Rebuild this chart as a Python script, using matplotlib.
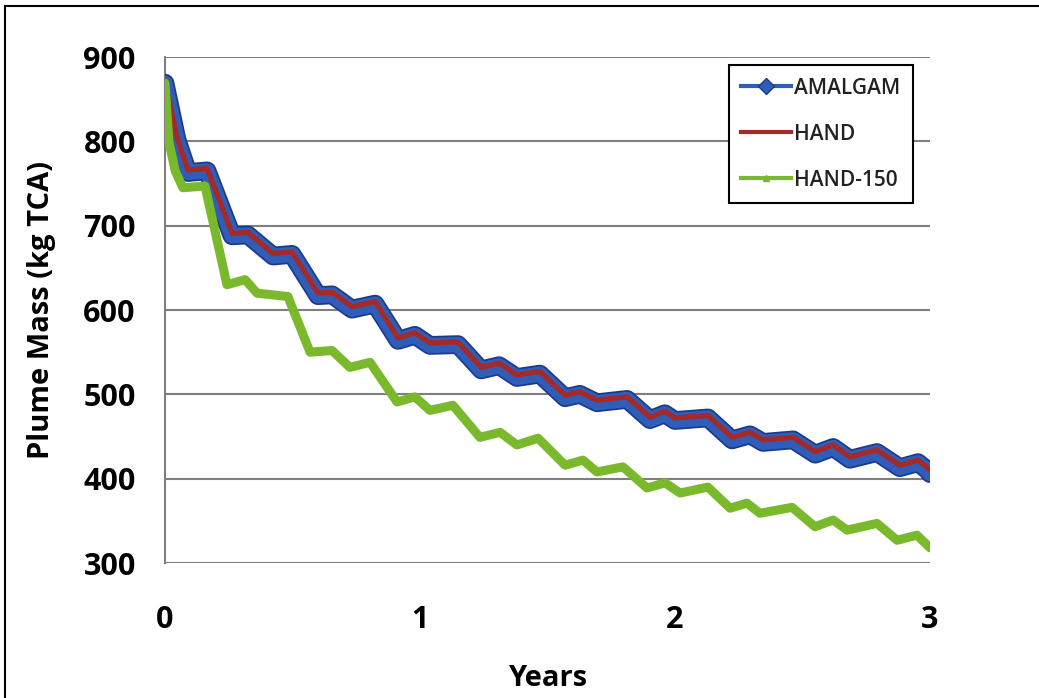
import matplotlib
matplotlib.use("Agg")
import matplotlib.pyplot as plt
import matplotlib.patheffects as pe
from matplotlib.lines import Line2D

plt.rcParams["font.family"] = ["Open Sans", "DejaVu Sans"]

# HAND run (red)
hand_years = [0.0, 0.047, 0.09, 0.165, 0.263, 0.325, 0.424, 0.498, 0.60, 0.655,
              0.733, 0.824, 0.914, 0.98, 1.039, 1.149, 1.24, 1.31, 1.38, 1.47,
              1.569, 1.627, 1.694, 1.812, 1.902, 1.96, 2.0, 2.129, 2.224, 2.294,
              2.345, 2.463, 2.55, 2.62, 2.686, 2.792, 2.882, 2.953, 2.99, 3.0]
hand_mass = [870, 805, 766, 768, 691, 692, 667, 669, 620, 621,
             604, 610, 567, 573, 561, 562, 532, 537, 523, 527,
             499, 503, 493, 497, 473, 480, 472, 475, 449, 455,
             446, 449, 432, 440, 426, 434, 416, 422, 413, 410]

# AMALGAM sits a touch under HAND
amalgam_years = hand_years
amalgam_mass = [869, 802, 763, 765, 688, 689, 664, 666, 617, 618,
                601, 607, 564, 570, 558, 559, 529, 534, 520, 524,
                496, 500, 490, 494, 470, 477, 469, 472, 446, 452,
                443, 446, 429, 437, 423, 431, 413, 419, 410, 406]

# HAND-150 (green)
h150_years = [0.0, 0.015, 0.04, 0.07, 0.157, 0.243, 0.314, 0.361, 0.482, 0.569,
              0.655, 0.725, 0.804, 0.91, 0.98, 1.039, 1.129, 1.235, 1.314, 1.38,
              1.463, 1.569, 1.639, 1.694, 1.796, 1.89, 1.961, 2.02, 2.129, 2.216,
              2.282, 2.333, 2.459, 2.549, 2.62, 2.675, 2.792, 2.871, 2.949, 3.0]
h150_mass = [869, 800, 765, 745, 747, 630, 636, 620, 616, 550,
             552, 532, 538, 491, 497, 481, 487, 449, 455, 440,
             448, 416, 422, 408, 414, 389, 395, 383, 390, 365,
             371, 359, 366, 343, 351, 339, 347, 327, 333, 318]

y_ticks = [300, 400, 500, 600, 700, 800, 900]
x_ticks = [0, 1, 2, 3]

blue = "#2F5DBA"
blue_edge = "#1B3A8A"
red = "#A42A2A"
green = "#7AB82C"

fig = plt.figure(figsize=(10.39, 6.98), dpi=100)
ax = fig.add_axes([0.1588, 0.1934, 0.7363, 0.7249])

ax.plot(amalgam_years, amalgam_mass, color=blue, lw=11,
        solid_joinstyle="round", solid_capstyle="round",
        path_effects=[pe.Stroke(linewidth=13.5, foreground=blue_edge,
                                joinstyle="round", capstyle="round"), pe.Normal()],
        zorder=3)
ax.plot(hand_years, hand_mass, color=red, lw=3.8, solid_joinstyle="round", zorder=4)
ax.plot(h150_years, h150_mass, color=green, lw=6.5, solid_joinstyle="round",
        solid_capstyle="round", zorder=5)

ax.set_xlim(0, 3)
ax.set_ylim(300, 900)
ax.set_xticks(x_ticks)
ax.set_yticks(y_ticks)
ax.tick_params(axis="both", length=0, labelsize=22)
ax.tick_params(axis="y", pad=21)
ax.tick_params(axis="x", pad=30)
for lab in ax.get_xticklabels() + ax.get_yticklabels():
    lab.set_fontweight("bold")

ax.grid(axis="y", color="#7F7F7F", lw=1.5)
ax.set_axisbelow(True)
for s in ["top", "right", "bottom"]:
    ax.spines[s].set_visible(False)
ax.spines["left"].set_color("#7F7F7F")
ax.spines["left"].set_linewidth(1.5)

ax.set_xlabel("Years", fontsize=21, fontweight="bold", labelpad=21)
ax.set_ylabel("Plume Mass (kg TCA)", fontsize=21, fontweight="bold", labelpad=20)

handles = [
    Line2D([], [], color=blue, lw=3, marker="D", markersize=8,
           markerfacecolor=blue, markeredgecolor=blue_edge),
    Line2D([], [], color=red, lw=3),
    Line2D([], [], color=green, lw=3, marker="^", markersize=5),
]
leg = ax.legend(handles, ["AMALGAM", "HAND", "HAND-150"], loc="upper right",
                bbox_to_anchor=(0.978, 0.984), fontsize=15, frameon=True,
                fancybox=False, framealpha=1, edgecolor="black",
                handlelength=2.4, handletextpad=0.15, labelspacing=1.2,
                borderpad=0.6, borderaxespad=0)
leg.get_frame().set_linewidth(1.5)
for t in leg.get_texts():
    t.set_color("#222222")
    t.set_fontweight("semibold")

# page frame (left and top edges show in the crop)
fig.add_artist(Line2D([0.005, 0.005], [0.0, 0.992], color="black", lw=1.5))
fig.add_artist(Line2D([0.005, 1.0], [0.992, 0.992], color="black", lw=1.5))

fig.savefig("out.png", dpi=100, facecolor="white")
